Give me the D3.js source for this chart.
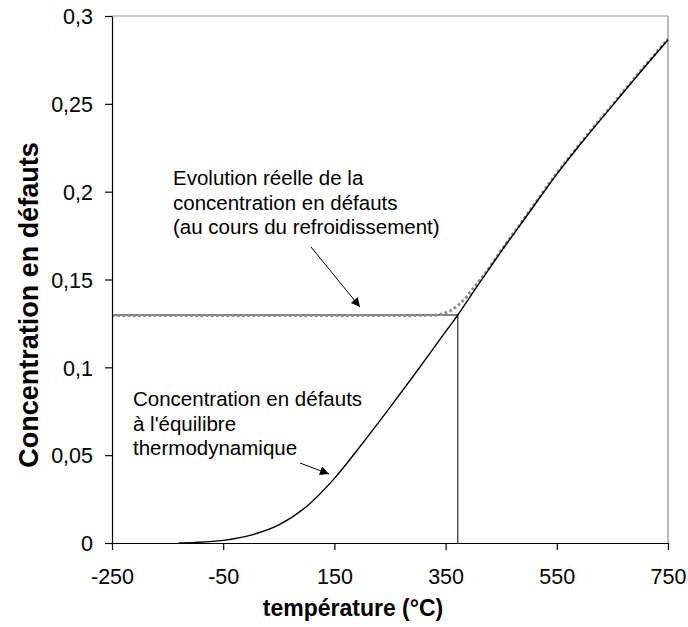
<!DOCTYPE html>
<html>
<head>
<meta charset="utf-8">
<script src="https://cdn.jsdelivr.net/npm/d3@7"></script>
<style>
  body { margin: 0; background: #fff; }
  svg { display: block; }
  text { font-family: "Liberation Sans", Arial, sans-serif; fill: #000; }
</style>
</head>
<body>
<svg id="chart" width="688" height="627"></svg>
<script>
// ---- Data ----
const xTicks = [-250, -50, 150, 350, 550, 750];
const xTickLabels = ["-250", "-50", "150", "350", "550", "750"];
const yTicks = [0, 0.05, 0.1, 0.15, 0.2, 0.25, 0.3];
const yTickLabels = ["0", "0,05", "0,1", "0,15", "0,2", "0,25", "0,3"];

// equilibrium concentration (black solid curve)
const eqTemp = [-130, -100, -50, 0, 50, 100, 150, 200, 250, 300, 350, 372, 400, 450, 500, 550, 600, 650, 700, 750];
const eqConc = [0, 0.0003, 0.0015, 0.0045, 0.0103, 0.0208, 0.0368, 0.0565, 0.0772, 0.0985, 0.1203, 0.1298, 0.143, 0.166, 0.188, 0.210, 0.230, 0.249, 0.268, 0.2865];

// real evolution during cooling (grey dotted curve)
const realTemp = [-250, 0, 250, 330, 345, 360, 375, 390, 405, 420, 450, 500, 550, 600, 650, 700, 750];
const realConc = [0.1295, 0.1295, 0.1295, 0.1297, 0.1305, 0.1325, 0.136, 0.141, 0.147, 0.153, 0.1665, 0.1885, 0.2105, 0.2305, 0.2495, 0.2685, 0.287];

// freezing point (thin reference lines)
const freezeTemp = [372];
const freezeConc = [0.1298];

const annotations = [
  { lines: ["Evolution réelle de la", "concentration en défauts", "(au cours du refroidissement)"] },
  { lines: ["Concentration en défauts", "à l'équilibre", "thermodynamique"] }
];

// ---- Layout ----
const W = 688, H = 627;
const margin = { left: 112, top: 16, right: 20, bottom: 84 };
const innerW = W - margin.left - margin.right;
const innerH = H - margin.top - margin.bottom;

const svg = d3.select("#chart");
const g = svg.append("g").attr("transform", `translate(${margin.left},${margin.top})`);

const x = d3.scaleLinear().domain([-250, 750]).range([0, innerW]);
const y = d3.scaleLinear().domain([0, 0.3]).range([innerH, 0]);

// arrow marker
svg.append("defs").append("marker")
  .attr("id", "arrow")
  .attr("viewBox", "0 0 10 10")
  .attr("refX", 10).attr("refY", 5)
  .attr("markerWidth", 11).attr("markerHeight", 9)
  .attr("markerUnits", "userSpaceOnUse")
  .attr("orient", "auto")
  .append("path").attr("d", "M0,0 L10,5 L0,10 Z").attr("fill", "#000");

// plot frame: grey top and right
g.append("line").attr("x1", 0).attr("x2", innerW).attr("y1", 0).attr("y2", 0)
  .attr("stroke", "#8c8c8c").attr("stroke-width", 1.2);
g.append("line").attr("x1", innerW).attr("x2", innerW).attr("y1", 0).attr("y2", innerH)
  .attr("stroke", "#8c8c8c").attr("stroke-width", 1.2);

// reference lines at freezing point
freezeTemp.forEach((t, i) => {
  g.append("line")
    .attr("x1", x(-250)).attr("x2", x(t))
    .attr("y1", y(freezeConc[i])).attr("y2", y(freezeConc[i]))
    .attr("stroke", "#000").attr("stroke-width", 1);
  g.append("line")
    .attr("x1", x(t)).attr("x2", x(t))
    .attr("y1", y(freezeConc[i])).attr("y2", y(0))
    .attr("stroke", "#000").attr("stroke-width", 1);
});

const lineReal = d3.line().x(d => x(d[0])).y(d => y(d[1])).curve(d3.curveMonotoneX);
const lineEq = d3.line().x(d => x(d[0])).y(d => y(d[1])).curve(d3.curveCatmullRom.alpha(0.5));

// grey dotted real curve
g.append("path")
  .datum(realTemp.map((t, i) => [t, realConc[i]]))
  .attr("d", lineReal)
  .attr("fill", "none")
  .attr("stroke", "#8f8f8f")
  .attr("stroke-width", 3)
  .attr("stroke-dasharray", "2.8 2.4");

// equilibrium curve
g.append("path")
  .datum(eqTemp.map((t, i) => [t, eqConc[i]]))
  .attr("d", lineEq)
  .attr("fill", "none")
  .attr("stroke", "#000")
  .attr("stroke-width", 1.4);

// axes
const xAxis = d3.axisBottom(x).tickValues(xTicks).tickSize(7).tickSizeOuter(0)
  .tickFormat((d, i) => xTickLabels[i]);
const gx = g.append("g").attr("transform", `translate(0,${innerH})`).call(xAxis);
gx.select(".domain").attr("stroke", "#000").attr("stroke-width", 1.2);
gx.selectAll(".tick line").attr("stroke", "#000").attr("stroke-width", 1.2);
gx.selectAll(".tick text").attr("font-size", 21.5).attr("dy", null).attr("y", 41)
  .style("font-family", "'Liberation Sans', Arial, sans-serif").attr("fill", "#000");

const yAxis = d3.axisLeft(y).tickValues(yTicks).tickSize(7).tickSizeOuter(0)
  .tickFormat((d, i) => yTickLabels[i]);
const gy = g.append("g").call(yAxis);
gy.select(".domain").attr("stroke", "#000").attr("stroke-width", 1.2);
gy.selectAll(".tick line").attr("stroke", "#000").attr("stroke-width", 1.2);
gy.selectAll(".tick text").attr("font-size", 21.5).attr("x", -19).attr("dy", "0.36em")
  .style("font-family", "'Liberation Sans', Arial, sans-serif").attr("fill", "#000");

// axis titles
svg.append("text")
  .attr("x", 353).attr("y", 616)
  .attr("text-anchor", "middle")
  .attr("font-size", 23).attr("font-weight", "bold")
  .text("température (°C)");

svg.append("text")
  .attr("transform", "translate(38,305) rotate(-90)")
  .attr("text-anchor", "middle")
  .attr("font-size", 27).attr("font-weight", "bold")
  .text("Concentration en défauts");

// annotations
const annPos = [
  { x: 173, y: 185, ax1: 311, ay1: 247, ax2: 360, ay2: 307 },
  { x: 133, y: 406, ax1: 300, ay1: 463, ax2: 329, ay2: 474 }
];
annotations.forEach((a, k) => {
  const p = annPos[k];
  const t = svg.append("text").attr("font-size", 20.5);
  a.lines.forEach((ln, j) => {
    t.append("tspan").attr("x", p.x).attr("y", p.y + j * 24.7).text(ln);
  });
  svg.append("line")
    .attr("x1", p.ax1).attr("y1", p.ay1).attr("x2", p.ax2).attr("y2", p.ay2)
    .attr("stroke", "#000").attr("stroke-width", 1)
    .attr("marker-end", "url(#arrow)");
});
</script>
</body>
</html>
